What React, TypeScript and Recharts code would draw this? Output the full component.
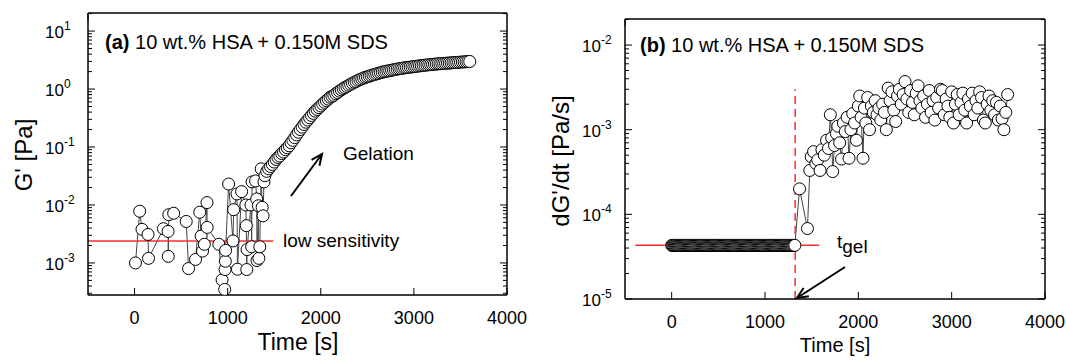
import React from 'react';
import { ComposedChart, Line, XAxis, YAxis, ReferenceLine } from 'recharts';

const FONT = '"Liberation Sans", Arial, sans-serif';

// ---- panel (a): G' vs time ----
const lowTimesA = [
  10, 55, 80, 145, 150, 310, 360, 362, 368, 420,
  555, 580, 655, 700, 715, 730, 750, 778, 780, 905,
  940, 968, 972, 975, 978, 1010, 1057, 1064, 1100, 1105,
  1150, 1195, 1200, 1205, 1208, 1250, 1258, 1262, 1300, 1312,
  1315, 1330, 1335, 1345, 1360, 1370, 1380, 1390,
];
const lowGA = [
  1.0e-3, 7.8e-3, 3.8e-3, 3.1e-3, 1.2e-3, 3.9e-3, 3.5e-3, 1.3e-3, 6.8e-3, 7.2e-3,
  5.2e-3, 8.0e-4, 1.15e-3, 7.5e-3, 2.9e-3, 1.6e-3, 2.1e-3, 1.1e-2, 4.1e-3, 2.1e-3,
  5.1e-4, 3.5e-4, 7.7e-4, 1.07e-3, 1.65e-3, 2.3e-2, 2.4e-3, 8.3e-3, 1.55e-2, 7.8e-4,
  1.7e-2, 1.0e-2, 4.4e-3, 7.7e-4, 1.7e-3, 1.0e-2, 1.9e-3, 2.5e-2, 2.6e-2, 1.27e-2,
  1.1e-3, 9.7e-3, 1.2e-3, 1.9e-3, 4.2e-2, 9.1e-3, 6.5e-3, 2.5e-2,
];
const riseTimesA = [
  1400, 1420, 1440, 1460, 1480, 1500, 1520, 1540, 1560, 1580,
  1600, 1620, 1640, 1660, 1680, 1700, 1720, 1740, 1760, 1780,
  1800, 1820, 1840, 1860, 1880, 1900, 1920, 1940, 1960, 1980,
  2000, 2020, 2040, 2060, 2080, 2100, 2120, 2140, 2160, 2180,
  2200, 2220, 2240, 2260, 2280, 2300, 2320, 2340, 2360, 2380,
  2400, 2420, 2440, 2460, 2480, 2500, 2520, 2540, 2560, 2580,
  2600, 2620, 2640, 2660, 2680, 2700, 2720, 2740, 2760, 2780,
  2800, 2820, 2840, 2860, 2880, 2900, 2920, 2940, 2960, 2980,
  3000, 3020, 3040, 3060, 3080, 3100, 3120, 3140, 3160, 3180,
  3200, 3220, 3240, 3260, 3280, 3300, 3320, 3340, 3360, 3380,
  3400, 3420, 3440, 3460, 3480, 3500, 3520, 3540, 3560, 3580,
  3600,
];
const riseGA = [
  0.032, 0.038, 0.042, 0.046, 0.05, 0.055, 0.061, 0.066, 0.07, 0.077,
  0.082, 0.09, 0.097, 0.105, 0.118, 0.13, 0.145, 0.162, 0.18, 0.2,
  0.22, 0.245, 0.268, 0.292, 0.32, 0.35, 0.38, 0.415, 0.445, 0.478,
  0.51, 0.55, 0.59, 0.63, 0.67, 0.72, 0.75, 0.78, 0.83, 0.87,
  0.92, 0.97, 1.02, 1.06, 1.11, 1.16, 1.21, 1.26, 1.31, 1.35,
  1.41, 1.46, 1.5, 1.55, 1.59, 1.63, 1.67, 1.71, 1.75, 1.79,
  1.83, 1.87, 1.91, 1.95, 1.99, 2.02, 2.05, 2.08, 2.11, 2.14,
  2.18, 2.21, 2.24, 2.26, 2.29, 2.32, 2.34, 2.36, 2.39, 2.41,
  2.44, 2.46, 2.48, 2.51, 2.53, 2.56, 2.58, 2.6, 2.62, 2.64,
  2.66, 2.68, 2.7, 2.72, 2.73, 2.75, 2.77, 2.78, 2.8, 2.81,
  2.83, 2.85, 2.86, 2.88, 2.89, 2.91, 2.93, 2.94, 2.96, 2.97,
  2.99,
];
const lowSensitivityG = 2.4e-3;

// ---- panel (b): dG'/dt vs time ----
const flatTimesB = [
  0, 10, 20, 30, 40, 50, 60, 70, 80, 90, 100, 110, 120, 130, 140, 150, 160, 170, 180, 190,
  200, 210, 220, 230, 240, 250, 260, 270, 280, 290, 300, 310, 320, 330, 340, 350, 360, 370,
  380, 390, 400, 410, 420, 430, 440, 450, 460, 470, 480, 490, 500, 510, 520, 530, 540, 550,
  560, 570, 580, 590, 600, 610, 620, 630, 640, 650, 660, 670, 680, 690, 700, 710, 720, 730,
  740, 750, 760, 770, 780, 790, 800, 810, 820, 830, 840, 850, 860, 870, 880, 890, 900, 910,
  920, 930, 940, 950, 960, 970, 980, 990, 1000, 1010, 1020, 1030, 1040, 1050, 1060, 1070,
  1080, 1090, 1100, 1110, 1120, 1130, 1140, 1150, 1160, 1170, 1180, 1190, 1200, 1210, 1220,
  1230, 1240, 1250, 1260, 1270, 1280, 1290, 1300, 1310, 1320,
];
const floorRateB = 4.3e-5;
const gelTimesB = [
  1370, 1455, 1480, 1495, 1520, 1545, 1565, 1590, 1610, 1635,
  1660, 1680, 1700, 1715, 1725, 1745, 1765, 1780, 1800, 1820,
  1840, 1860, 1880, 1900, 1920, 1940, 1960, 1980, 2000, 2015,
  2030, 2050, 2065, 2080, 2100, 2120, 2140, 2160, 2180, 2200,
  2220, 2240, 2260, 2280, 2300, 2320, 2340, 2360, 2380, 2400,
  2420, 2440, 2460, 2480, 2500, 2520, 2540, 2560, 2580, 2600,
  2620, 2640, 2660, 2680, 2700, 2720, 2740, 2760, 2780, 2800,
  2820, 2840, 2860, 2880, 2900, 2920, 2940, 2960, 2980, 3000,
  3020, 3040, 3060, 3080, 3100, 3120, 3140, 3160, 3180, 3200,
  3220, 3240, 3260, 3280, 3300, 3320, 3340, 3360, 3380, 3400,
  3420, 3440, 3460, 3480, 3500, 3520, 3540, 3560, 3580, 3600,
];
const gelRatesB = [
  2.0e-4, 6.8e-5, 3.3e-4, 4.8e-4, 5.5e-4, 4.0e-4, 4.4e-4, 3.3e-4, 5.8e-4, 5.0e-4,
  7.5e-4, 6.0e-4, 1.5e-3, 8.0e-4, 3.2e-4, 6.5e-4, 9.0e-4, 1.1e-3, 7.0e-4, 4.5e-4,
  1.2e-3, 9.5e-4, 1.4e-3, 4.6e-4, 1.0e-3, 1.55e-3, 1.2e-3, 7.5e-4, 1.9e-3, 2.5e-3,
  1.4e-3, 4.6e-4, 1.8e-3, 1.2e-3, 2.4e-3, 1.0e-3, 1.9e-3, 1.6e-3, 2.2e-3, 1.5e-3,
  1.8e-3, 1.3e-3, 2.0e-3, 1.6e-3, 1.0e-3, 3.1e-3, 2.2e-3, 2.8e-3, 1.7e-3, 1.25e-3,
  2.5e-3, 3.0e-3, 2.0e-3, 2.6e-3, 3.7e-3, 2.3e-3, 1.6e-3, 2.9e-3, 2.1e-3, 1.5e-3,
  2.7e-3, 3.3e-3, 2.2e-3, 1.8e-3, 2.5e-3, 1.4e-3, 2.0e-3, 2.9e-3, 1.6e-3, 2.2e-3,
  1.3e-3, 2.4e-3, 1.8e-3, 3.0e-3, 2.9e-3, 1.5e-3, 2.3e-3, 1.9e-3, 1.4e-3, 2.8e-3,
  1.2e-3, 2.0e-3, 2.6e-3, 1.5e-3, 2.1e-3, 2.7e-3, 1.7e-3, 1.2e-3, 2.3e-3, 1.9e-3,
  2.7e-3, 1.5e-3, 2.2e-3, 1.8e-3, 2.8e-3, 2.4e-3, 1.3e-3, 1.2e-3, 2.0e-3, 2.5e-3,
  1.7e-3, 2.2e-3, 1.5e-3, 2.1e-3, 1.3e-3, 1.9e-3, 1.35e-3, 1.0e-3, 1.6e-3, 2.6e-3,
];
const tGel = 1323;

const xTicks = [0, 1000, 2000, 3000, 4000];
const xTopTicks = [0, 1000, 2000, 3000];
const decadesA = [1e-4, 1e-3, 1e-2, 1e-1, 1, 10];
const decadesB = [1e-5, 1e-4, 1e-3, 1e-2];

const dataA = [
  ...lowTimesA.map((t, i) => ({ t, v: lowGA[i] })),
  ...riseTimesA.map((t, i) => ({ t, v: riseGA[i] })),
];
const dataB = [
  ...flatTimesB.map((t) => ({ t, v: floorRateB })),
  ...gelTimesB.map((t, i) => ({ t, v: gelRatesB[i] })),
];

const logTicks = (decades: number[], lo: number, hi: number) =>
  decades
    .flatMap((d) => [1, 2, 3, 4, 5, 6, 7, 8, 9].map((m) => m * d))
    .filter((v) => v >= lo * 0.999 && v <= hi * 1.001);

const isMajor = (v: number) => Math.abs(Math.log10(v) - Math.round(Math.log10(v))) < 1e-6;

function BottomTick(props: any) {
  const { x, y, payload } = props;
  return (
    <g>
      <line x1={x} x2={x} y1={y} y2={y - 7} stroke="#000" />
      <text x={x} y={y + 29} textAnchor="middle" fontSize={18} fontFamily={FONT} fill="#000">
        {payload.value}
      </text>
    </g>
  );
}

function TopTick(props: any) {
  const { x, y } = props;
  return <line x1={x} x2={x} y1={y} y2={y + 7} stroke="#000" />;
}

function LeftTick(props: any) {
  const { x, y, payload } = props;
  const v = payload.value;
  const major = isMajor(v);
  return (
    <g>
      <line x1={x} x2={x + (major ? 7 : 4)} y1={y} y2={y} stroke="#000" />
      {major && (
        <text x={x - 43} y={y + 7} fontSize={17} fontFamily={FONT} fill="#000">
          <tspan>10</tspan>
          <tspan fontSize={12} dy={-8}>
            {String(Math.round(Math.log10(v)))}
          </tspan>
        </text>
      )}
    </g>
  );
}

function RightTick(props: any) {
  const { x, y, payload } = props;
  const major = isMajor(payload.value);
  return <line x1={x} x2={x - (major ? 7 : 4)} y1={y} y2={y} stroke="#000" />;
}

function Arrow({ x1, y1, x2, y2 }: { x1: number; y1: number; x2: number; y2: number }) {
  const a = Math.atan2(y2 - y1, x2 - x1);
  const L = 12;
  const s = 0.42;
  const p1 = [x2 - L * Math.cos(a - s), y2 - L * Math.sin(a - s)];
  const p2 = [x2 - L * Math.cos(a + s), y2 - L * Math.sin(a + s)];
  return (
    <g stroke="#000" strokeWidth={2} fill="none">
      <line x1={x1} y1={y1} x2={x2} y2={y2} />
      <polyline points={`${p1[0]},${p1[1]} ${x2},${y2} ${p2[0]},${p2[1]}`} />
    </g>
  );
}

interface PanelProps {
  data: { t: number; v: number }[];
  yDomain: [number, number];
  yTicks: number[];
  left: number;
  right: number;
  top: number;
  bottom: number;
  children?: React.ReactNode;
}

function Panel({ data, yDomain, yTicks, left, right, top, bottom, children }: PanelProps) {
  const axisLine = { stroke: '#000', strokeWidth: 1.5 };
  return (
    <ComposedChart width={533} height={363} data={data} margin={{ top: 0, right: 0, bottom: 0, left: 0 }}>
      <XAxis
        xAxisId="b"
        dataKey="t"
        type="number"
        domain={[-500, 4000]}
        ticks={xTicks}
        interval={0}
        allowDataOverflow
        height={bottom}
        tickSize={0}
        tickMargin={0}
        tickLine={false}
        axisLine={axisLine}
        tick={BottomTick}
      />
      <XAxis
        xAxisId="t"
        orientation="top"
        type="number"
        domain={[-500, 4000]}
        ticks={xTopTicks}
        interval={0}
        allowDataOverflow
        height={top}
        tickSize={0}
        tickMargin={0}
        tickLine={false}
        axisLine={axisLine}
        tick={TopTick}
      />
      <YAxis
        yAxisId="l"
        type="number"
        scale="log"
        domain={yDomain}
        ticks={yTicks}
        interval={0}
        allowDataOverflow
        width={left}
        tickSize={0}
        tickMargin={0}
        tickLine={false}
        axisLine={axisLine}
        tick={LeftTick}
      />
      <YAxis
        yAxisId="r"
        orientation="right"
        type="number"
        scale="log"
        domain={yDomain}
        ticks={yTicks}
        interval={0}
        allowDataOverflow
        width={right}
        tickSize={0}
        tickMargin={0}
        tickLine={false}
        axisLine={axisLine}
        tick={RightTick}
      />
      <Line
        xAxisId="b"
        yAxisId="l"
        dataKey="v"
        type="linear"
        stroke="#444"
        strokeWidth={1}
        dot={{ r: 6, fill: '#fff', stroke: '#000', strokeWidth: 1 }}
        activeDot={false}
        isAnimationActive={false}
      />
      {children}
    </ComposedChart>
  );
}

export default function App() {
  const domA: [number, number] = [2.8e-4, 20.5];
  const domB: [number, number] = [1e-5, 0.0203];
  return (
    <div style={{ position: 'absolute', left: 0, top: 0, width: 1066, height: 363, background: '#fff' }}>
      <div style={{ position: 'absolute', left: 0, top: 0 }}>
        <Panel data={dataA} yDomain={domA} yTicks={logTicks(decadesA, domA[0], domA[1])} left={88} right={26} top={13} bottom={68}>
          <ReferenceLine
            xAxisId="b"
            yAxisId="l"
            segment={[{ x: -500, y: lowSensitivityG }, { x: 1490, y: lowSensitivityG }]}
            stroke="#ff2a2a"
            strokeWidth={1.5}
            ifOverflow="visible"
          />
        </Panel>
      </div>
      <div style={{ position: 'absolute', left: 533, top: 0 }}>
        <Panel data={dataB} yDomain={domB} yTicks={logTicks(decadesB, domB[0], domB[1])} left={92} right={21} top={19} bottom={64}>
          <ReferenceLine
            xAxisId="b"
            yAxisId="l"
            segment={[{ x: -390, y: floorRateB }, { x: 1580, y: floorRateB }]}
            stroke="#ff2a2a"
            strokeWidth={1.5}
            ifOverflow="visible"
          />
          <ReferenceLine
            xAxisId="b"
            yAxisId="l"
            segment={[{ x: tGel, y: 1e-5 }, { x: tGel, y: 3e-3 }]}
            stroke="#ff2a2a"
            strokeWidth={1.5}
            strokeDasharray="8 5"
            ifOverflow="visible"
          />
        </Panel>
      </div>
      <svg
        width={1066}
        height={363}
        style={{ position: 'absolute', left: 0, top: 0, pointerEvents: 'none' }}
        fontFamily={FONT}
      >
        {/* panel (a) texts */}
        <text x={105} y={49} fontSize={20} fill="#000">
          <tspan fontWeight="bold">(a)</tspan>
          <tspan> 10 wt.% HSA + 0.150M SDS</tspan>
        </text>
        <text x={283} y={247} fontSize={19} fill="#000">low sensitivity</text>
        <text x={343} y={160} fontSize={19} fill="#000">Gelation</text>
        <Arrow x1={291} y1={196} x2={322} y2={154} />
        <text x={298} y={350} fontSize={23} textAnchor="middle" fill="#000">Time [s]</text>
        <text transform="translate(32,155) rotate(-90)" fontSize={24} textAnchor="middle" fill="#000">
          G' [Pa]
        </text>

        {/* panel (b) texts */}
        <text x={640} y={52} fontSize={20} fill="#000">
          <tspan fontWeight="bold">(b)</tspan>
          <tspan> 10 wt.% HSA + 0.150M SDS</tspan>
        </text>
        <text x={837} y={248} fontSize={19} fill="#000">
          <tspan>t</tspan>
          <tspan dy={5}>gel</tspan>
        </text>
        <Arrow x1={845} y1={267} x2={797} y2={298} />
        <text x={835} y={352} fontSize={20} textAnchor="middle" fill="#000">Time [s]</text>
        <text transform="translate(569,161) rotate(-90)" fontSize={24} textAnchor="middle" fill="#000">
          dG'/dt [Pa/s]
        </text>
      </svg>
    </div>
  );
}
